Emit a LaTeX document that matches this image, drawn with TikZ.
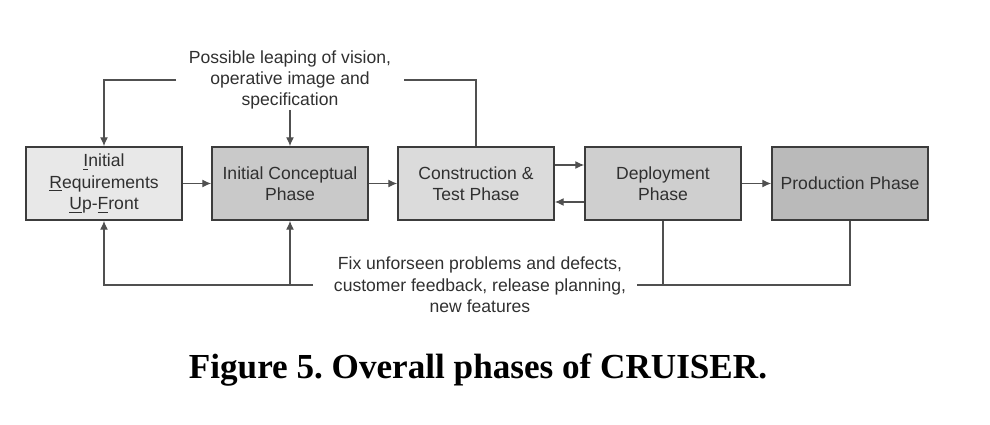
\documentclass[tikz,border=0pt]{standalone}
\usepackage{fontspec}
\setmainfont{Liberation Serif}
\newfontfamily\arial{Liberation Sans}
\usetikzlibrary{arrows.meta}
\frenchspacing

\definecolor{edge}{HTML}{3C3C3C}
\definecolor{wire}{HTML}{505050}
\definecolor{ink}{HTML}{303030}

\tikzset{
  phase/.style={draw=edge, line width=1pt, minimum width=3.12cm, minimum height=1.46cm,
    inner sep=1pt, align=center, text=ink, font=\arial\fontsize{10}{12.2}\selectfont},
  note/.style={align=center, inner sep=0pt, text=ink, font=\arial\fontsize{10}{12.2}\selectfont},
  wireline/.style={draw=wire, line width=0.6pt},
  arr/.style={wireline, -{Latex[length=5pt,width=4.5pt]}}
}

\begin{document}
\begin{tikzpicture}[x=0.02cm, y=-0.02cm]
\useasboundingbox (0,0) rectangle (990,425);

% phases
\node[phase, fill=black!9]  (req)     at (104,183.5) {\underline{I}nitial\\\underline{R}equirements\\\underline{U}p-\underline{F}ront};
\node[phase, fill=black!21] (concept) at (290,183.5) {Initial Conceptual\\Phase};
\node[phase, fill=black!14] (cons)    at (476,183.5) {Construction \&\\Test Phase};
\node[phase, fill=black!19] (deploy)  at (663,183.5) {Deployment\\Phase};
\node[phase, fill=black!27] (prod)    at (850,183.5) {Production Phase};

\draw[arr] (req) -- (concept);
\draw[arr] (concept) -- (cons);
\draw[arr] ([yshift=0.37cm]cons.east) -- ([yshift=0.37cm]deploy.west);
\draw[arr] ([yshift=-0.37cm]deploy.west) -- ([yshift=-0.37cm]cons.east);
\draw[arr] (deploy) -- (prod);

% leaping back from construction
\node[note] (leap) at (290,80) {Possible leaping of vision,\\operative image and\\specification};
\coordinate (topL) at (176,80);
\coordinate (topR) at (404,80);
\draw[wireline] (cons.north) |- (topR);
\draw[arr] (topL) -| (req.north);
\draw[arr] (leap.south) -- (concept.north);

% feedback from deployment and production
\node[note] (fix) at (480,285) {Fix unforseen problems and defects,\\customer feedback, release planning,\\new features};
\coordinate (botL) at (313,285);
\coordinate (botR) at (637,285);
\draw[wireline] (prod.south) |- (botR);
\draw[wireline] (deploy.south) -- (deploy.south |- botR);
\draw[arr] (botL) -| (req.south);
\draw[arr] (concept.south |- botL) -- (concept.south);

% caption
\node[font=\bfseries\fontsize{20}{24}\selectfont, inner sep=0pt] (cap) at (478,370) {Figure 5. Overall phases of CRUISER.};

\end{tikzpicture}
\end{document}
